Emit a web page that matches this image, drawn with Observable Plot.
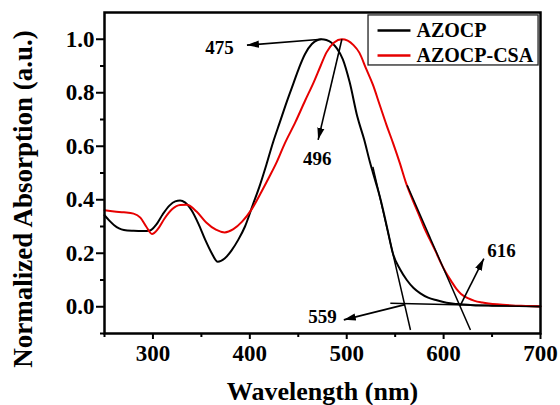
<!DOCTYPE html>
<html><head><meta charset="utf-8">
<script src="https://cdn.jsdelivr.net/npm/d3@7"></script>
<script src="https://cdn.jsdelivr.net/npm/@observablehq/plot@0.6"></script>
<style>html,body{margin:0;padding:0;background:#fff}
svg text{font-family:'Liberation Serif','Times New Roman',serif !important;font-weight:bold}</style>
</head><body><div id="chart"></div>
<script>
// ---- data ----
const seriesNames = ["AZOCP", "AZOCP-CSA"];
const azocpWl  = [250,255,260,265,270,280,290,297,303,310,317,323,328,333,340,347,354,360,367,374,381,388,395,403,410,417,424,431,438,445,451,457,464,470,474,479,484,490,496,503,511,518,524,530,535,542,548,555,562,569,576,584,593,603,614,630,650,675,700];
const azocpAbs = [0.342,0.322,0.305,0.293,0.287,0.284,0.283,0.285,0.305,0.345,0.378,0.394,0.397,0.39,0.36,0.31,0.25,0.205,0.168,0.18,0.21,0.25,0.30,0.38,0.45,0.53,0.615,0.69,0.765,0.835,0.895,0.945,0.982,0.997,1.0,0.997,0.988,0.965,0.925,0.84,0.71,0.625,0.54,0.465,0.40,0.29,0.195,0.14,0.10,0.07,0.05,0.034,0.024,0.015,0.01,0.006,0.004,0.003,0.002];
const csaWl  = [250,260,270,280,287,293,299,305,312,320,328,335,345,355,365,374,383,392,402,412,420,427,436,447,457,466,473,479,487,495,501,507,513,520,527,534,541,548,555,561,568,575,580,586,592,597,602,608,613,618,625,632,640,655,670,685,700];
const csaAbs = [0.361,0.356,0.353,0.348,0.333,0.30,0.272,0.29,0.33,0.365,0.38,0.381,0.356,0.315,0.288,0.278,0.29,0.318,0.365,0.43,0.485,0.535,0.61,0.69,0.77,0.84,0.90,0.95,0.988,1.0,0.995,0.978,0.95,0.89,0.83,0.755,0.68,0.61,0.535,0.465,0.40,0.34,0.295,0.25,0.205,0.165,0.13,0.095,0.068,0.048,0.032,0.022,0.016,0.009,0.005,0.003,0.001];

// tangent / baseline construction lines (x1,y1,x2,y2)
const guideX1 = [527, 562.4, 545];
const guideY1 = [0.523, 0.454, 0.013];
const guideX2 = [565.8, 627.7, 700];
const guideY2 = [-0.087, -0.087, 0.0];

// annotations
const noteText = ["475", "496", "559", "616"];
const arrowX1 = [474, 495, 560, 617];
const arrowY1 = [1.0, 1.0, 0.008, 0.003];
const arrowX2 = [397, 470.5, 497, 641.5];
const arrowY2 = [0.978, 0.624, -0.049, 0.18];
const noteX = [368.7, 469.5, 475, 659.7];
const noteY = [0.969, 0.551, -0.038, 0.208];

const xMajor = [300, 400, 500, 600, 700];
const xMinor = [250, 350, 450, 550, 650];
const yMajor = [0.0, 0.2, 0.4, 0.6, 0.8, 1.0];
const yMinor = [-0.1, 0.1, 0.3, 0.5, 0.7, 0.9];
const xTitle = "Wavelength (nm)";
const yTitle = "Normalized Absorption (a.u.)";

// ---- build tables ----
const colors = ["#000000", "#e60000"];
const curves = [
  ...azocpWl.map((x, i) => ({series: seriesNames[0], x, y: azocpAbs[i]})),
  ...csaWl.map((x, i) => ({series: seriesNames[1], x, y: csaAbs[i]}))
];
const guides = guideX1.map((d, i) => ({x1: d, y1: guideY1[i], x2: guideX2[i], y2: guideY2[i]}));
const arrows = arrowX1.map((d, i) => ({x1: d, y1: arrowY1[i], x2: arrowX2[i], y2: arrowY2[i]}));
const notes = noteText.map((t, i) => ({t, x: noteX[i], y: noteY[i]}));

// legend layout (in data units)
const legendBox = [{x1: 522.5, x2: 698, y1: 0.902, y2: 1.089}];
const legendRows = seriesNames.map((s, i) => ({s, y: [1.033, 0.9395][i], c: colors[i]}));

const serif = "'Liberation Serif','Times New Roman',serif";

function filledArrow(color) {
  const m = d3.create("svg:marker")
    .attr("viewBox", "-12 -5 12 10")
    .attr("markerWidth", 12).attr("markerHeight", 10)
    .attr("markerUnits", "userSpaceOnUse")
    .attr("orient", "auto")
    .attr("fill", color).attr("stroke", "none");
  m.append("path").attr("d", "M-12,-3.6L0,0L-12,3.6Z");
  return m.node();
}

const chart = Plot.plot({
  width: 560, height: 405,
  marginLeft: 104, marginRight: 20, marginTop: 12, marginBottom: 72,
  x: {domain: [250, 700]},
  y: {domain: [-0.1, 1.1]},
  color: {domain: seriesNames, range: colors},
  style: {fontFamily: serif, fontWeight: "bold", color: "black", background: "white", overflow: "visible"},
  marks: [
    Plot.axisX(xMajor, {tickSize: 6, tickPadding: 5, fontSize: 23, fontFamily: serif, fontWeight: "bold", tickFormat: d => String(d), label: null, strokeWidth: 2}),
    Plot.axisX(xMinor, {tickSize: 4, tickFormat: () => "", label: null, strokeWidth: 2}),
    Plot.axisY(yMajor, {tickSize: 8, tickPadding: 2, fontSize: 23, fontFamily: serif, fontWeight: "bold", tickFormat: d3.format(".1f"), label: null, strokeWidth: 2}),
    Plot.axisY(yMinor, {tickSize: 4, tickFormat: () => "", label: null, strokeWidth: 2}),
    Plot.text([yTitle], {frameAnchor: "left", textAnchor: "middle", dx: -81, dy: 26, rotate: -90, fontSize: 27, fontFamily: serif, fontWeight: "bold", lineAnchor: "middle", text: d => d}),
    Plot.text([xTitle], {frameAnchor: "bottom", textAnchor: "middle", dy: 58.5, fontSize: 26, fontFamily: serif, fontWeight: "bold", lineAnchor: "middle", text: d => d}),
    Plot.line(curves, {x: "x", y: "y", z: "series", stroke: "series", strokeWidth: 2, curve: "monotone-x"}),
    Plot.link(guides, {x1: "x1", y1: "y1", x2: "x2", y2: "y2", stroke: "black", strokeWidth: 1.5}),
    Plot.link(arrows, {x1: "x1", y1: "y1", x2: "x2", y2: "y2", stroke: "black", strokeWidth: 1.6, markerEnd: filledArrow}),
    Plot.text(notes, {x: "x", y: "y", text: "t", fontSize: 19, fontFamily: serif, fontWeight: "bold"}),
    Plot.rect(legendBox, {x1: "x1", x2: "x2", y1: "y1", y2: "y2", fill: "white", stroke: "#222", strokeWidth: 1.3}),
    Plot.link(legendRows, {x1: 531.8, x2: 565.8, y1: "y", y2: "y", stroke: "c", strokeWidth: 2.5}),
    Plot.text(legendRows, {x: 572, y: "y", text: "s", textAnchor: "start", fontSize: 20, fontFamily: serif, fontWeight: "bold"}),
    Plot.frame({strokeWidth: 2.5})
  ]
});
document.getElementById("chart").append(chart);
</script>
</body></html>
